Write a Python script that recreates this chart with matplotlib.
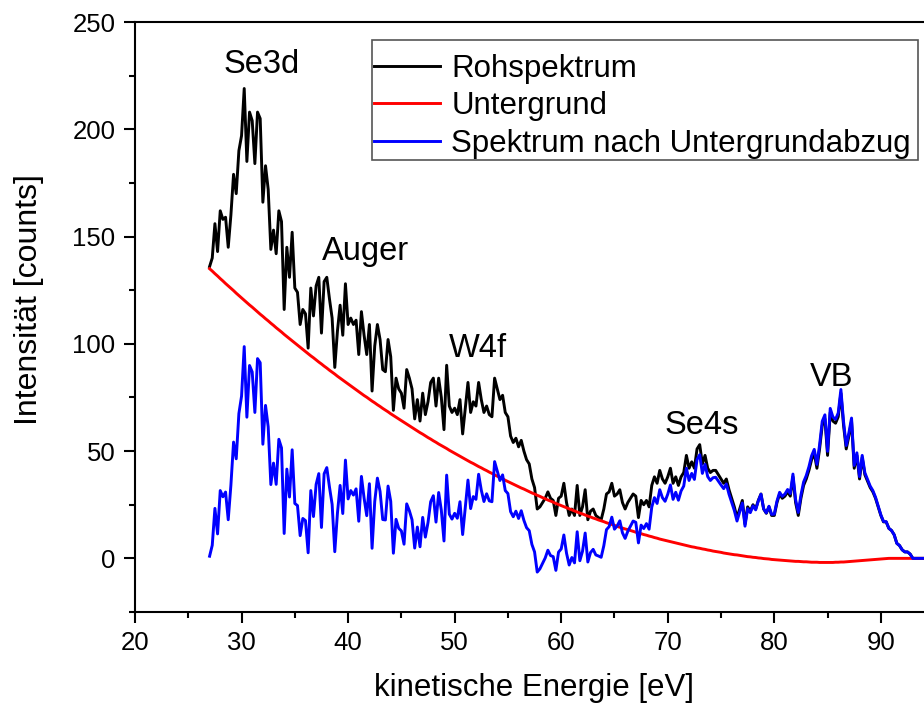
import numpy as np
import matplotlib
matplotlib.use("Agg")
import matplotlib.pyplot as plt
from matplotlib.ticker import MultipleLocator
from matplotlib.patches import Rectangle

plt.rcParams['font.family'] = ['Liberation Sans', 'DejaVu Sans']

# energy grid: 27.0 ... 94.0 eV in 0.25 eV steps
energy = np.arange(27.0, 94.0 + 0.001, 0.25)

# raw spectrum (counts), 4 values per eV
raw = [
    136, 140, 156, 143,   # 27
    162, 158, 159, 145,   # 28
    160, 179, 170, 190,   # 29
    197, 219, 185, 208,   # 30
    204, 184, 208, 205,   # 31
    166, 183, 172, 144,   # 32
    153, 142, 162, 157,   # 33
    116, 145, 131, 152,   # 34
    126, 124, 109, 116,   # 35
    114, 98, 126, 113,    # 36
    127, 131, 105, 129,   # 37
    131, 121, 112, 89,    # 38
    106, 118, 104, 128,   # 39
    109, 112, 109, 111,   # 40
    95, 115, 104, 95,     # 41
    109, 78, 99, 109,     # 42
    102, 88, 87, 102,     # 43
    94, 69, 84, 79,       # 44
    77, 70, 88, 84,       # 45
    79, 65, 74, 64,       # 46
    77, 67, 73, 82,       # 47
    84, 71, 84, 75,       # 48
    60, 90, 71, 68,       # 49
    70, 67, 74, 58,       # 50
    70, 82, 68, 73,       # 51
    71, 82, 74, 68,       # 52
    71, 67, 66, 84,       # 53
    79, 74, 76, 68,       # 54
    66, 57, 54, 56,       # 55
    52, 55, 50, 46,       # 56
    44, 37, 33, 23,       # 57
    24, 26, 28, 31,       # 58
    28, 27, 20, 28,       # 59
    29, 35, 26, 20,       # 60
    23, 20, 34, 20,       # 61
    24, 32, 18, 22,       # 62
    23, 20, 19, 18,       # 63
    23, 30, 31, 35,       # 64
    29, 30, 32, 26,       # 65
    23, 26, 28, 30,       # 66
    29, 19, 27, 25,       # 67
    27, 24, 34, 38,       # 68
    35, 41, 37, 35,       # 69
    38, 42, 35, 38,       # 70
    34, 38, 40, 48,       # 71
    42, 45, 42, 51,       # 72
    53, 44, 48, 42,       # 73
    40, 41, 41, 39,       # 74
    37, 35, 37, 32,       # 75
    28, 24, 19, 23,       # 76
    27, 16, 24, 22,       # 77
    25, 23, 27, 30,       # 78
    23, 21, 24, 20,       # 79
    20, 26, 30, 28,       # 80
    29, 31, 29, 38,       # 81
    26, 20, 28, 34,       # 82
    37, 41, 46, 49,       # 83
    42, 51, 62, 65,       # 84
    48, 68, 64, 63,       # 85
    66, 77, 62, 51,       # 86
    57, 64, 42, 48,       # 87
    37, 47, 39, 36,       # 88
    33, 31, 28, 24,       # 89
    20, 17, 17, 14,       # 90
    13, 11, 7, 6,         # 91
    4, 3, 3, 2,           # 92
    0, 0, 0, 0,           # 93
    0,                    # 94
]

# background (Untergrund), same grid
background = [
    135.0, 133.9, 132.7, 131.6,
    130.4, 129.3, 128.1, 127.0,
    125.9, 124.8, 123.6, 122.5,
    121.4, 120.3, 119.2, 118.1,
    117.1, 116.0, 114.9, 113.8,
    112.8, 111.7, 110.7, 109.6,
    108.6, 107.5, 106.5, 105.5,
    104.4, 103.4, 102.4, 101.4,
    100.4, 99.4, 98.4, 97.4,
    96.4, 95.4, 94.4, 93.5,
    92.5, 91.5, 90.6, 89.6,
    88.7, 87.7, 86.8, 85.9,
    84.9, 84.0, 83.1, 82.2,
    81.3, 80.4, 79.5, 78.6,
    77.7, 76.8, 75.9, 75.1,
    74.2, 73.3, 72.5, 71.6,
    70.8, 69.9, 69.1, 68.3,
    67.4, 66.6, 65.8, 65.0,
    64.2, 63.4, 62.6, 61.8,
    61.0, 60.2, 59.4, 58.6,
    57.9, 57.1, 56.3, 55.6,
    54.8, 54.1, 53.3, 52.6,
    51.9, 51.2, 50.4, 49.7,
    49.0, 48.3, 47.6, 46.9,
    46.2, 45.5, 44.8, 44.2,
    43.5, 42.8, 42.2, 41.5,
    40.9, 40.2, 39.6, 38.9,
    38.3, 37.7, 37.1, 36.4,
    35.8, 35.2, 34.6, 34.0,
    33.4, 32.8, 32.3, 31.7,
    31.1, 30.5, 30.0, 29.4,
    28.9, 28.3, 27.8, 27.2,
    26.7, 26.2, 25.6, 25.1,
    24.6, 24.1, 23.6, 23.1,
    22.6, 22.1, 21.6, 21.1,
    20.7, 20.2, 19.7, 19.3,
    18.8, 18.4, 17.9, 17.5,
    17.1, 16.6, 16.2, 15.8,
    15.4, 14.9, 14.5, 14.1,
    13.7, 13.4, 13.0, 12.6,
    12.2, 11.8, 11.5, 11.1,
    10.8, 10.4, 10.1, 9.7,
    9.4, 9.0, 8.7, 8.4,
    8.1, 7.8, 7.5, 7.2,
    6.9, 6.6, 6.3, 6.0,
    5.7, 5.4, 5.2, 4.9,
    4.7, 4.4, 4.2, 3.9,
    3.7, 3.4, 3.2, 3.0,
    2.8, 2.5, 2.3, 2.1,
    1.9, 1.7, 1.6, 1.4,
    1.2, 1.0, 0.8, 0.7,
    0.5, 0.4, 0.2, 0.1,
    -0.1, -0.2, -0.3, -0.5,
    -0.6, -0.7, -0.8, -0.9,
    -1.0, -1.1, -1.2, -1.3,
    -1.4, -1.4, -1.5, -1.6,
    -1.6, -1.7, -1.8, -1.8,
    -1.8, -1.9, -1.9, -1.9,
    -1.9, -1.9, -1.9, -1.8,
    -1.8, -1.7, -1.7, -1.6,
    -1.5, -1.4, -1.3, -1.2,
    -1.1, -1.0, -0.9, -0.8,
    -0.7, -0.6, -0.5, -0.4,
    -0.3, -0.2, -0.1, 0.0,
    0.0, 0.0, 0.0, 0.0,
    0.0, 0.0, 0.0, 0.0,
    0.0, 0.0, 0.0, 0.0,
    0.0,
]

raw = np.array(raw, dtype=float)
background = np.array(background, dtype=float)
subtracted = raw - background

series_labels = ["Rohspektrum", "Untergrund", "Spektrum nach Untergrundabzug"]

peak_names = ["Se3d", "Auger", "W4f", "Se4s", "VB"]
peak_x = [31.9, 41.6, 52.2, 73.2, 85.4]
peak_y = [230, 143, 98, 62, 84.5]

fig = plt.figure(figsize=(9.24, 7.06), dpi=100)
ax = fig.add_axes([135/924, 94/706, (924-135)/924, 590/706])

lw = 2.1
ax.plot(energy, raw, color='black', lw=lw, label=series_labels[0])
ax.plot(energy, background, color='#ff0000', lw=lw, label=series_labels[1])
ax.plot(energy, subtracted, color='#0000ff', lw=lw, label=series_labels[2])

for name, px, py in zip(peak_names, peak_x, peak_y):
    ax.text(px, py, name, fontsize=23.5, ha='center', va='center')

ax.set_xlim(20, 94.05)
ax.set_ylim(-25, 250)
ax.xaxis.set_major_locator(MultipleLocator(10))
ax.xaxis.set_minor_locator(MultipleLocator(5))
ax.yaxis.set_major_locator(MultipleLocator(50))
ax.yaxis.set_minor_locator(MultipleLocator(25))
ax.tick_params(which='major', direction='out', length=8, width=1.5, labelsize=18.5, pad=6)
ax.tick_params(which='minor', direction='out', length=4.5, width=1.5)
ax.tick_params(top=False, right=False)
for side in ['left', 'bottom', 'top']:
    ax.spines[side].set_linewidth(1.5)
ax.spines['right'].set_visible(False)

ax.set_xlabel("kinetische Energie [eV]", fontsize=22.5)
ax.xaxis.set_label_coords(0.506, -0.103)
ax.set_ylabel("Intensität [counts]", fontsize=23)
ax.yaxis.set_label_coords(-0.115, 0.53)

# legend frame (drawn separately to match the tight horizontal padding)
frame = Rectangle((0.3004, 0.7661), 0.9924 - 0.3004, 0.9695 - 0.7661,
                  transform=ax.transAxes, facecolor='white', edgecolor='#555555',
                  linewidth=1.2, zorder=4)
ax.add_patch(frame)
leg = ax.legend(loc='upper left', bbox_to_anchor=(0.3029, 0.9465), borderaxespad=0,
                fontsize=22.5, frameon=False, handlelength=2.1,
                handletextpad=0.38, labelspacing=0.25, borderpad=0.0)
leg.set_zorder(5)

fig.savefig("out.png", dpi=100)
